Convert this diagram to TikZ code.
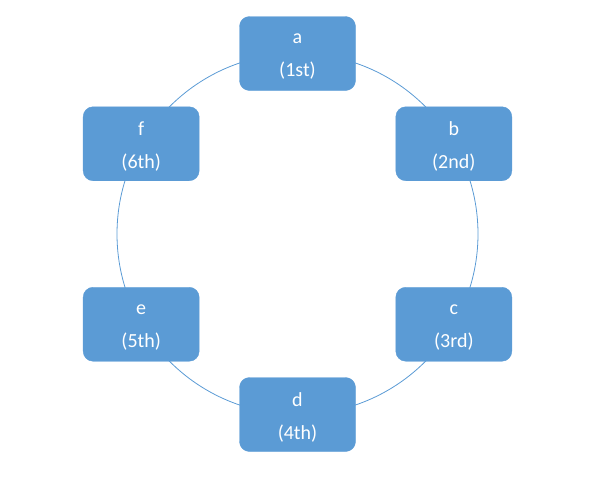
\documentclass[tikz,border=0pt]{standalone}
\usepackage{fontspec}
\setmainfont{Carlito}
\usetikzlibrary{calc}
\definecolor{officeblue}{HTML}{5B9BD5}
\begin{document}
\begin{tikzpicture}[x=1pt,y=1pt,
  boxnode/.style={draw=officeblue, fill=officeblue, rounded corners=10pt,
    minimum width=116pt, minimum height=74pt, inner sep=0pt},
  boxtext/.style={label={[text=white, align=center, yshift=-3pt,
    font=\fontsize{20}{33}\selectfont]center:#1}}]
\useasboundingbox (0,0) rectangle (592,-477);
\coordinate (ctr) at (297.5,-234);
\draw[officeblue, line width=0.8pt] (ctr) circle (180.5);
\node[boxnode, boxtext={a\\(1st)}] (a) at ($(ctr)+(90:180.5)$) {};
\node[boxnode, boxtext={b\\(2nd)}] (b) at ($(ctr)+(30:180.5)$) {};
\node[boxnode, boxtext={c\\(3rd)}] (c) at ($(ctr)+(-30:180.5)$) {};
\node[boxnode, boxtext={d\\(4th)}] (d) at ($(ctr)+(-90:180.5)$) {};
\node[boxnode, boxtext={e\\(5th)}] (e) at ($(ctr)+(-150:180.5)$) {};
\node[boxnode, boxtext={f\\(6th)}] (f) at ($(ctr)+(150:180.5)$) {};
\end{tikzpicture}
\end{document}
